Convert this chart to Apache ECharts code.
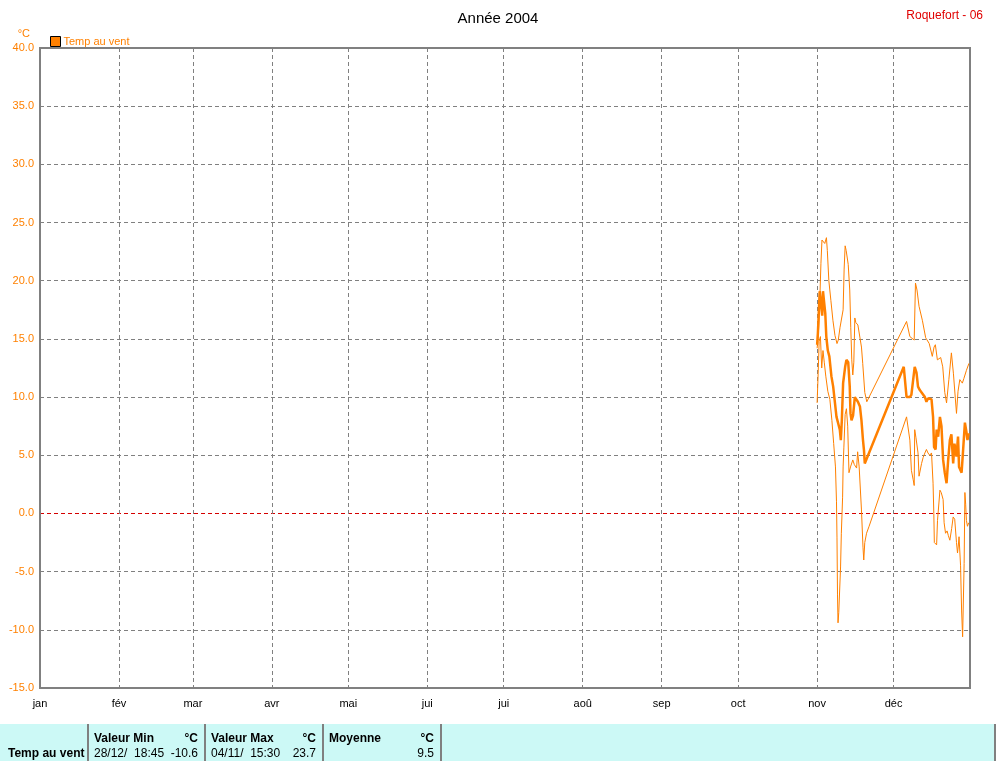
<!DOCTYPE html>
<html><head><meta charset="utf-8">
<script src="https://cdn.jsdelivr.net/npm/echarts@6/dist/echarts.min.js"></script>
<style>html,body{margin:0;padding:0;background:#fff}#c{width:996px;height:761px}</style>
</head><body><div id="c"></div>
<script>
// Month starts as day-of-year (2004, leap year) and labels
const monthStarts = [0,31,60,91,121,152,182,213,244,274,305,335];
const monthLabels = ['jan','fév','mar','avr','mai','jui','jui','aoû','sep','oct','nov','déc'];
const dataStartDoy = 305; // 1 Nov 2004

// Max temperatures: days since 1 Nov, values °C
const maxDays = [0.0,0.5,1.0,1.5,1.9,2.5,3.0,3.65,4.0,4.6,5.4,6.2,7.0,7.8,8.3,9.0,10.2,10.6,11.0,11.4,12.2,12.8,13.2,13.6,14.0,14.4,14.8,15.2,16.0,17.4,17.9,18.7,19.5,
  35.1,36.4,38.1,38.6,39.2,40.0,41.3,42.6,44.0,45.2,45.9,46.4,47.2,48.5,49.3,50.1,50.8,51.7,52.7,53.5,54.2,54.7,55.3,56.0,57.0,57.6,58.6,59.6];
const maxVals = [14.2,15.5,18.0,21.5,23.5,23.6,23.2,23.7,22.6,20.0,18.3,16.6,15.3,14.6,14.9,16.0,17.5,21.0,23.0,22.6,21.4,19.2,16.0,13.2,11.9,13.0,16.8,16.4,16.2,14.3,12.9,10.4,9.6,
  16.5,15.2,14.9,19.8,19.2,17.8,16.6,15.1,14.6,13.5,14.3,14.5,13.2,13.4,12.6,10.4,9.5,11.5,13.8,12.0,10.0,8.6,10.5,11.5,11.2,11.6,12.3,12.9];

// Average temperatures
const avgDays = [0.0,0.3,0.6,1.0,1.5,2.0,2.3,3.0,3.2,3.6,4.2,4.8,5.6,6.3,7.0,7.6,8.2,8.9,9.3,9.7,10.2,11.0,11.5,12.2,12.8,13.1,13.5,14.1,14.8,15.5,16.0,16.8,17.4,18.0,18.4,18.7,19.4,
  34.0,34.4,35.1,35.7,36.4,37.0,37.7,38.3,39.0,39.6,40.3,41.0,41.6,42.3,42.9,43.6,44.2,44.9,45.5,45.9,46.5,46.9,47.5,48.2,48.8,49.45,50.1,50.8,51.4,52.1,52.7,53.4,53.9,54.7,55.3,55.7,56.7,57.1,58.0,58.6,59.0,59.5];
const avgVals = [14.5,15.5,17.0,19.1,19.1,17.0,19.1,19.1,17.2,15.2,14.0,13.5,11.8,10.9,9.5,8.3,7.8,7.2,6.3,8.0,11.2,12.6,13.2,13.0,10.9,8.6,8.0,8.4,10.0,10.0,9.6,9.2,8.0,6.3,5.4,4.3,4.4,
  12.6,12.6,10.0,10.0,10.0,10.2,11.5,12.6,12.1,10.9,10.6,10.4,10.3,10.0,9.6,9.9,9.9,9.8,8.3,5.7,5.5,7.2,6.6,8.3,7.5,4.6,3.5,2.6,4.5,6.3,6.8,4.3,6.0,4.9,6.6,4.0,3.5,4.8,7.8,7.0,6.3,6.9];

// Min temperatures
const minDays = [0.0,0.4,0.8,1.3,1.8,2.3,2.8,3.4,4.2,5.0,5.8,6.5,7.2,7.6,7.8,8.0,8.2,8.5,9.2,9.5,10.0,10.2,10.5,11.0,11.5,12.0,12.5,13.1,14.0,14.6,15.5,15.9,16.5,17.4,18.0,18.3,18.7,19.4,20.4,
  35.1,36.4,37.0,37.7,38.1,38.3,38.8,39.6,40.0,40.3,41.0,41.6,42.3,42.9,43.5,44.2,44.9,45.5,45.8,46.0,46.9,47.25,47.8,48.2,48.7,49.45,49.84,50.4,51.0,51.5,52.1,52.8,53.4,54.0,54.7,55.1,55.4,55.7,56.3,56.7,57.1,57.7,58.0,58.3,58.6,59.0,59.5];
const minVals = [9.5,12.0,14.8,15.2,12.5,14.0,13.0,11.8,10.5,9.8,8.0,6.0,4.0,1.0,-2.1,-7.0,-9.4,-8.5,-4.6,-1.7,1.4,4.0,5.7,8.5,9.0,7.5,3.5,4.0,4.6,4.2,3.9,5.3,4.0,0.3,-2.9,-4.0,-2.5,-1.7,-1.1,
  8.3,6.3,3.7,2.9,2.4,7.2,6.5,5.2,3.2,3.2,4.3,4.8,5.2,5.5,5.2,5.0,5.2,2.6,0.0,-2.5,-2.7,-0.6,0.9,2.0,1.8,1.2,-0.8,-1.7,-1.5,-1.9,-2.3,-1.3,-0.3,-0.5,-2.5,-3.4,-2.8,-2.0,-4.5,-8.3,-10.6,-4.3,1.8,0.8,-0.6,-1.1,-0.8];

// Summary table
const rowLabel = 'Temp au vent';
const statHeaders = ['Valeur Min','Valeur Max','Moyenne'];
const statUnits = ['°C','°C','°C'];
const statDates = ['28/12/  18:45','04/11/  15:30',''];
const statValues = ['-10.6','23.7','9.5'];

const ORANGE = '#ff8000';
const FONT = '"Liberation Sans", Arial, sans-serif';

function pairs(days, vals){ return days.map((d,i)=>[dataStartDoy + d, vals[i]]); }

const chart = echarts.init(document.getElementById('c'), null, {renderer:'canvas'});

// table graphics
const colX = [88, 205, 323, 441];
const tableTop = 724;
const g = [];
g.push({type:'rect', shape:{x:0,y:tableTop,width:996,height:37}, style:{fill:'#ccf9f6'}, silent:true});
colX.forEach(x=>g.push({type:'rect', shape:{x:x-1,y:tableTop,width:2,height:37}, style:{fill:'#808080'}}));
g.push({type:'rect', shape:{x:994,y:tableTop,width:2,height:37}, style:{fill:'#808080'}});
g.push({type:'text', x:8, y:754, style:{text:rowLabel, font:'bold 12px '+FONT, fill:'#000', textVerticalAlign:'middle'}});
for (let i=0;i<3;i++){
  const x0 = colX[i]+6, x1 = colX[i+1]-7;
  g.push({type:'text', x:x0, y:739, style:{text:statHeaders[i], font:'bold 12px '+FONT, fill:'#000', textVerticalAlign:'middle'}});
  g.push({type:'text', x:x1, y:739, style:{text:statUnits[i], font:'bold 12px '+FONT, fill:'#000', textAlign:'right', textVerticalAlign:'middle'}});
  if (statDates[i]) g.push({type:'text', x:x0, y:754, style:{text:statDates[i], font:'12px '+FONT, fill:'#000', textVerticalAlign:'middle'}});
  g.push({type:'text', x:x1, y:754, style:{text:statValues[i], font:'12px '+FONT, fill:'#000', textAlign:'right', textVerticalAlign:'middle'}});
}

const splitColors = [];
for (let v=-15; v<=40; v+=5) splitColors.push(v===0 ? '#d40000' : '#808080');

chart.setOption({
  animation:false,
  backgroundColor:'#fff',
  title:[
    {text:'Année 2004', left:'center', top:6, textStyle:{fontFamily:FONT, fontSize:15, fontWeight:'normal', color:'#000'}},
    {text:'Roquefort - 06', right:8, top:5, textStyle:{fontFamily:FONT, fontSize:12, fontWeight:'normal', color:'#e00000'}}
  ],
  legend:{
    data:['Temp au vent'], left:45, top:31, icon:'rect', itemWidth:10, itemHeight:10, itemGap:5,
    itemStyle:{color:ORANGE, borderColor:'#000', borderWidth:1},
    textStyle:{color:ORANGE, fontFamily:FONT, fontSize:11, padding:[0,0,0,-2]}
  },
  grid:{left:40, top:48, width:930, height:640, show:true, borderColor:'#808080', borderWidth:2, backgroundColor:'transparent', containLabel:false},
  xAxis:{
    type:'value', min:0, max:365,
    axisLine:{show:true, onZero:false, lineStyle:{color:'#808080', width:2}},
    axisTick:{show:false, customValues:monthStarts},
    axisLabel:{customValues:monthStarts, color:'#000', fontFamily:FONT, fontSize:11, margin:10,
      formatter:function(v){ const i = monthStarts.indexOf(Math.round(v)); return i>=0 ? monthLabels[i] : ''; }},
    splitLine:{show:true, lineStyle:{color:'#808080', type:[4,3], width:1}}
  },
  yAxis:{
    type:'value', min:-15, max:40, interval:5,
    name:'°C', nameLocation:'end', nameGap:9,
    nameTextStyle:{color:ORANGE, fontFamily:FONT, fontSize:11, align:'right', padding:[0,10,0,0]},
    axisLine:{show:true, lineStyle:{color:'#808080', width:2}},
    axisTick:{show:false},
    axisLabel:{color:ORANGE, fontFamily:FONT, fontSize:11, margin:6, formatter:v=>v.toFixed(1)},
    splitLine:{show:true, lineStyle:{color:splitColors, type:[4,3], width:1}}
  },
  series:[
    {name:'Temp max', type:'line', data:pairs(maxDays,maxVals), showSymbol:false, lineStyle:{color:ORANGE, width:1}, itemStyle:{color:ORANGE}, z:3},
    {name:'Temp min', type:'line', data:pairs(minDays,minVals), showSymbol:false, lineStyle:{color:ORANGE, width:1}, itemStyle:{color:ORANGE}, z:3},
    {name:'Temp au vent', type:'line', data:pairs(avgDays,avgVals), showSymbol:false, lineStyle:{color:ORANGE, width:2.5}, itemStyle:{color:ORANGE}, z:4}
  ],
  graphic:g
});
</script>
</body></html>
